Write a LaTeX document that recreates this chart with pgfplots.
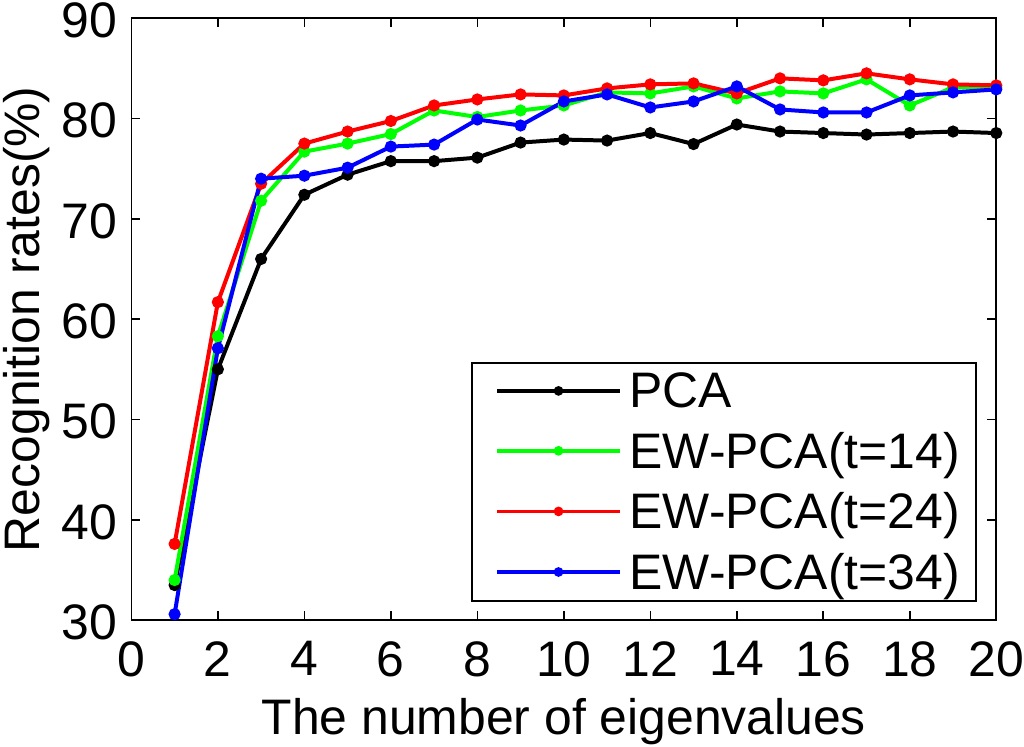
\documentclass[border=0pt]{standalone}
\usepackage{fontspec}
\setmainfont{Liberation Sans}
\usepackage{pgfplots}
\pgfplotsset{compat=1.18}
\newcommand{\bigf}{\fontsize{50}{60}\selectfont}
\begin{document}
\begin{tikzpicture}
\begin{axis}[
  at={(0pt,0pt)}, anchor=south west,
  scale only axis, width=867pt, height=603.5pt,
  xmin=0, xmax=20, ymin=30, ymax=90,
  xtick={0,2,...,20}, ytick={30,40,...,90},
  /pgf/number format/assume math mode=true,
  tick align=inside, major tick length=9pt,
  tick style={black, line width=1.6pt},
  axis line style={black, line width=1.6pt},
  clip=false,
  tick label style={font=\bigf},
  xticklabel style={inner sep=0pt, anchor=north, yshift=-21pt},
  yticklabel style={inner sep=0pt, anchor=east, xshift=-14pt, yshift=-2pt},
  xlabel={The number of eigenvalues},
  ylabel={Recognition rates(\%)},
  label style={font=\bigf},
  xlabel style={at={(axis description cs:0.5,0)}, anchor=base, inner sep=0pt, yshift=-115pt},
  ylabel style={at={(axis description cs:-0.1485,0.5)}, anchor=north, inner sep=0pt},
  legend style={font=\bigf, at={(rel axis cs:1,0)}, anchor=south east,
    xshift=-19.7pt, yshift=18.7pt, draw=black, line width=1.5pt,
    inner xsep=14pt, inner ysep=8pt, row sep=19pt, column sep=6pt, cells={anchor=west}},
  legend image code/.code={\path (-9pt,0pt); \draw[mark repeat=2,mark phase=2,#1,line width=3.5pt,mark size=3pt] plot coordinates {(0pt,0pt)(61.5pt,0pt)(123pt,0pt)};},
  every axis plot/.append style={line width=4pt, mark=*, mark size=4pt},
]
\addplot[black, mark options={fill=black}] coordinates {
(1,33.5)(2,55.0)(3,66.0)(4,72.4)(5,74.4)(6,75.75)(7,75.75)(8,76.1)(9,77.6)(10,77.9)
(11,77.8)(12,78.55)(13,77.45)(14,79.4)(15,78.7)(16,78.55)(17,78.4)(18,78.55)(19,78.7)(20,78.55)};
\addlegendentry{PCA}
\addplot[color={rgb,1:red,0;green,1;blue,0}, mark options={fill={rgb,1:red,0;green,1;blue,0}}] coordinates {
(1,34.0)(2,58.3)(3,71.8)(4,76.7)(5,77.5)(6,78.45)(7,80.8)(8,80.15)(9,80.8)(10,81.3)
(11,82.6)(12,82.5)(13,83.2)(14,82.0)(15,82.7)(16,82.5)(17,83.9)(18,81.3)(19,83.1)(20,83.1)};
\addlegendentry{EW-PCA(t=14)}
\addplot[color={rgb,1:red,1;green,0;blue,0}, mark options={fill={rgb,1:red,1;green,0;blue,0}}] coordinates {
(1,37.6)(2,61.7)(3,73.5)(4,77.5)(5,78.7)(6,79.75)(7,81.3)(8,81.9)(9,82.4)(10,82.3)
(11,83.0)(12,83.4)(13,83.5)(14,82.5)(15,84.0)(16,83.8)(17,84.5)(18,83.9)(19,83.4)(20,83.3)};
\addlegendentry{EW-PCA(t=24)}
\addplot[color={rgb,1:red,0;green,0;blue,1}, mark options={fill={rgb,1:red,0;green,0;blue,1}}] coordinates {
(1,30.6)(2,57.1)(3,74.0)(4,74.3)(5,75.1)(6,77.2)(7,77.4)(8,79.9)(9,79.3)(10,81.7)
(11,82.4)(12,81.1)(13,81.7)(14,83.2)(15,80.9)(16,80.6)(17,80.6)(18,82.3)(19,82.6)(20,82.9)};
\addlegendentry{EW-PCA(t=34)}
\end{axis}
\path[use as bounding box] (-131.7pt,-126.3pt) rectangle (892.3pt,621.7pt);
\end{tikzpicture}
\end{document}
